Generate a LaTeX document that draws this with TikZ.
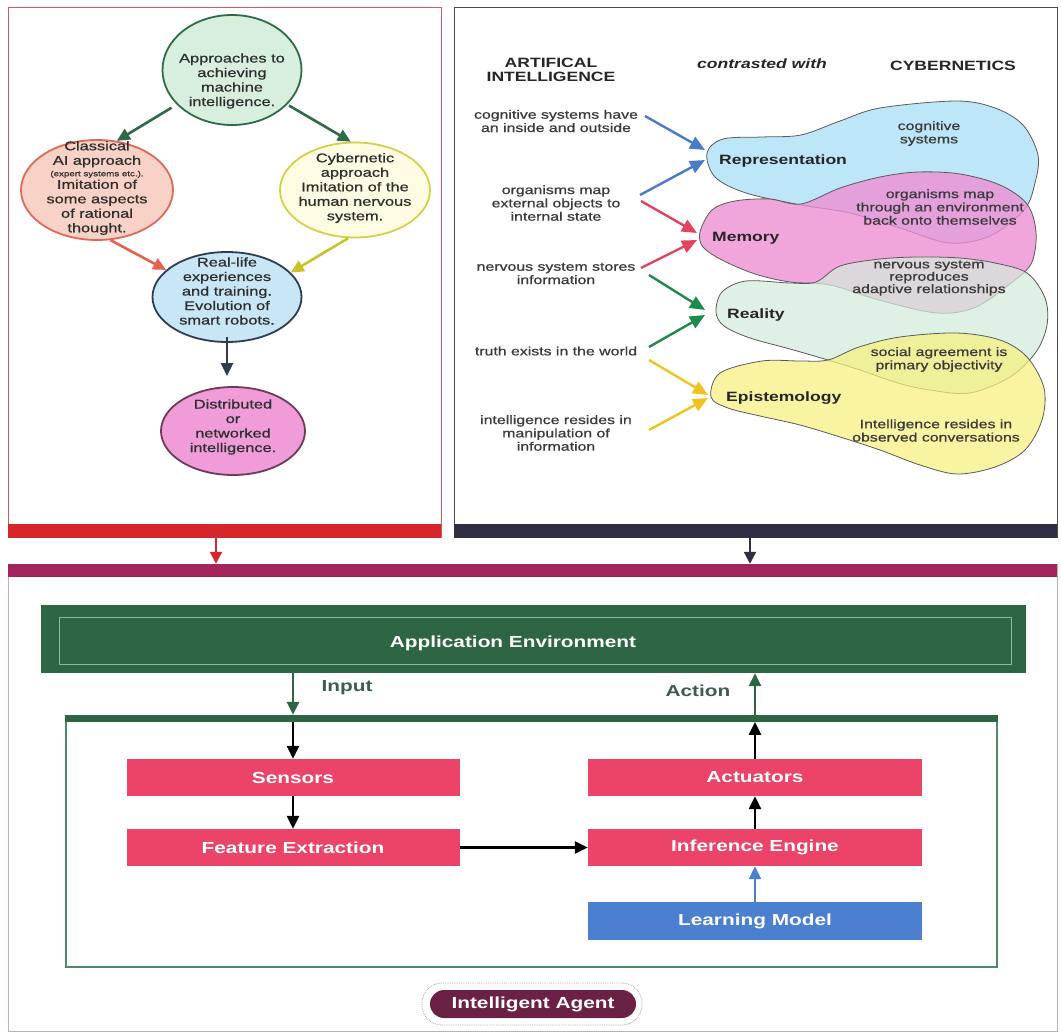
\documentclass[tikz,border=0pt]{standalone}
\usepackage{fontspec}
\setmainfont{Liberation Sans}[FakeStretch=1.3]
\newfontfamily\medfont{Liberation Sans}[FakeStretch=1.3, FakeBold=0.8]
\usetikzlibrary{arrows.meta,shapes.geometric,calc}
\definecolor{txtgray}{HTML}{2E2E2E}
\definecolor{rtxt}{HTML}{3A3A3A}
\definecolor{framered}{HTML}{D65A55}
\definecolor{barred}{HTML}{D7262B}
\definecolor{framedark}{HTML}{4A4A55}
\definecolor{barnavy}{HTML}{2F2E45}
\definecolor{barmag}{HTML}{A3245A}
\definecolor{bframe}{HTML}{C8AABB}
\definecolor{appgreen}{HTML}{2E6543}
\definecolor{appline}{HTML}{8DB89B}
\definecolor{agentline}{HTML}{4E8A64}
\definecolor{labgreen}{HTML}{3E5E4B}
\definecolor{pinkbox}{HTML}{EB4468}
\definecolor{bluebox}{HTML}{4B7FD0}
\definecolor{pill}{HTML}{6B2143}
\definecolor{egreen}{HTML}{2F6A48}
\definecolor{efgreen}{HTML}{D8EFDD}
\definecolor{ered}{HTML}{E0685A}
\definecolor{efred}{HTML}{F8D2C6}
\definecolor{eyel}{HTML}{D4D04A}
\definecolor{efyel}{HTML}{FDFCE2}
\definecolor{enavy}{HTML}{2C3E50}
\definecolor{efblue}{HTML}{C8E6F5}
\definecolor{epink}{HTML}{6E3A5A}
\definecolor{efpink}{HTML}{F09CD8}
\definecolor{aredarr}{HTML}{E5624F}
\definecolor{ayelarr}{HTML}{CBC22A}
\definecolor{ablue}{HTML}{4A7BC8}
\definecolor{ared}{HTML}{E2445E}
\definecolor{agrn}{HTML}{1E8A4B}
\definecolor{ayel}{HTML}{F2C21E}
\definecolor{bblue}{HTML}{BDE6F8}
\definecolor{bpink}{HTML}{EE8DD2}
\definecolor{bgreen}{HTML}{D3EBDA}
\definecolor{byel}{HTML}{F6F07E}
\definecolor{bline}{HTML}{5A5A5A}
\newcommand\fsA{\medfont\fontsize{12.6}{14.5}\selectfont}
\newcommand\fsB{\medfont\fontsize{12.2}{13.3}\selectfont}
\newcommand\fsH{\fontsize{13.5}{14}\selectfont\bfseries}
\newcommand\fsC{\fontsize{16}{18}\selectfont\bfseries}
\begin{document}
\begin{tikzpicture}[x=1pt,y=-1pt,
  ell/.style={ellipse, draw, line width=1.8, inner sep=0},
  ltxt/.style={text=txtgray, align=center, font=\fsA, inner sep=0},
  rtext/.style={text=rtxt, align=center, font=\fsB, inner sep=0},
  blab/.style={text=black!85, font=\fsH, inner sep=0, anchor=west},
  larrow/.style={line width=2.6, -{Triangle[length=13,width=12]}},
  rarrow/.style={line width=2.4, -{Triangle[length=15,width=13]}},
  karrow/.style={line width=2.8, -{Triangle[length=13,width=12]}},
  blob/.style={draw=bline, line width=0.8},
  pbox/.style={fill=pinkbox, text=white, font=\fsC, minimum width=333, minimum height=37, inner sep=0},
]
\path[use as bounding box, fill=white] (0,0) rectangle (1061,1033);

% ---------- top-left panel ----------
\draw[framered, line width=1] (8,8) rectangle (441,537);
\node[fill=barred, minimum width=433, minimum height=14, inner sep=0] (lbar) at (224.5,530.5) {};

\node[ell, draw=egreen, fill=efgreen, minimum width=139, minimum height=110] (top) at (232,70) {};
\node[ell, draw=ered, fill=efred, minimum width=152, minimum height=100] (cls) at (97,190) {};
\node[ell, draw=eyel, fill=efyel, minimum width=150, minimum height=95] (cyb) at (355,190) {};
\node[ell, draw=enavy, fill=efblue, minimum width=149, minimum height=90] (real) at (227,297) {};
\node[ell, draw=epink, fill=efpink, minimum width=144, minimum height=88] (dist) at (233,431) {};

\node[ltxt] (topT) at (232,81) {Approaches to\\achieving\\machine\\intelligence.};
\node[ltxt] (clsT) at (97,188) {Classical\\AI approach\\[-3pt]{\fontsize{7.5}{8}\selectfont (expert systems etc.).}\\[-2pt]Imitation of\\some aspects\\of rational\\thought.};
\node[ltxt] (cybT) at (355,188) {Cybernetic\\approach\\Imitation of the\\human nervous\\system.};
\node[ltxt] (realT) at (227,291) {Real-life\\experiences\\and training.\\Evolution of\\smart robots.};
\node[ltxt] (distT) at (233,427) {Distributed\\or\\networked\\intelligence.};

\draw[larrow, egreen, shorten <=6pt] (top.212) -- (cls.68);
\draw[larrow, egreen, shorten <=2pt] (top.328) -- (cyb.95);
\draw[larrow, aredarr] (cls.285) -- (real.156);
\draw[larrow, ayelarr] (cyb.262) -- (real.21);
\draw[larrow, enavy, shorten <=-6pt, shorten >=10pt] (real.south) -- (real.south |- dist.north);

% ---------- top-right panel ----------
\draw[framedark, line width=1] (454,8) rectangle (1057,537);
\node[fill=barnavy, minimum width=603, minimum height=14, inner sep=0] (rbar) at (755.5,530.5) {};

\node[font=\fsH, align=center, text=black!85, inner sep=0] (hAI) at (551,70) {ARTIFICAL\\INTELLIGENCE};
\node[font=\fsH, text=black!85, inner sep=0] (hCon) at (762,64) {\textit{contrasted with}};
\node[font=\fsH, text=black!85, inner sep=0] (hCyb) at (953,66) {CYBERNETICS};

% blobs
\filldraw[blob, fill=bblue] plot[smooth cycle, tension=0.55] coordinates {(707,153) (723,139) (762,137) (801,135) (840,121) (880,108) (956,101) (995,108) (1023,125) (1038,155) (1035,183) (1024,210) (990,236) (949,243) (900,228) (850,213) (801,205) (746,193) (715,177)};
\filldraw[blob, fill=bpink, fill opacity=0.78] plot[smooth cycle, tension=0.55] coordinates {(700,232) (712,210) (735,201) (770,199) (801,204) (840,188) (880,177) (918,172) (960,174) (1000,185) (1027,204) (1036,232) (1032,262) (1015,280) (976,307) (937,313) (879,300) (830,285) (790,282) (755,274) (722,260) (703,247)};
\filldraw[blob, fill=bgreen, fill opacity=0.72] plot[smooth cycle, tension=0.55] coordinates {(716,312) (722,292) (746,281) (790,283) (816,282) (840,266) (880,259) (918,257) (960,258) (995,263) (1027,273) (1045,298) (1047,325) (1036,352) (1010,377) (970,393) (930,390) (898,383) (860,370) (828,360) (790,349) (750,338) (724,326)};
\filldraw[blob, fill=byel, fill opacity=0.72] plot[smooth cycle, tension=0.55] coordinates {(711,397) (720,373) (762,361) (800,361) (828,360) (859,347) (900,337) (957,333) (1000,340) (1027,357) (1044,388) (1042,420) (1025,450) (995,467) (957,474) (920,465) (880,450) (840,437) (800,425) (760,416) (728,408)};

\node[blab] (rep) at (719,161) {Representation};
\node[blab] (mem) at (712,238) {Memory};
\node[blab] (rea) at (727,315) {Reality};
\node[blab] (epi) at (726,398) {Epistemology};

\node[rtext] (cs) at (929,133.5) {cognitive\\systems};
\node[rtext] (om) at (940,207) {organisms map\\through an environment\\back onto themselves};
\node[rtext, font=\medfont\fontsize{12.2}{11.3}\selectfont] (nsr) at (929,278) {nervous system\\reproduces\\adaptive relationships};
\node[rtext] (sa) at (939,359.5) {social agreement is\\primary objectivity};
\node[rtext] (ir) at (936,430.5) {Intelligence resides in\\observed conversations};

\node[rtext] (cog) at (556,121) {cognitive systems have\\an inside and outside};
\node[rtext] (org) at (556,203) {organisms map\\external objects to\\internal state};
\node[rtext] (nss) at (556,273.5) {nervous system stores\\information};
\node[rtext] (tru) at (556,351) {truth exists in the world};
\node[rtext] (int) at (556,433) {intelligence resides in\\manipulation of\\information};

\coordinate (b1s) at (645,116); \coordinate (b1e) at (705,150);
\coordinate (b2s) at (640,195); \coordinate (b2e) at (705,160);
\coordinate (r1s) at (641,201); \coordinate (r1e) at (697,233);
\coordinate (r2s) at (641,268); \coordinate (r2e) at (697,240);
\coordinate (g1s) at (649,275); \coordinate (g1e) at (705,310);
\coordinate (g2s) at (649,347); \coordinate (g2e) at (705,315);
\coordinate (y1s) at (649,360); \coordinate (y1e) at (708,395);
\coordinate (y2s) at (649,430); \coordinate (y2e) at (708,398);
\draw[rarrow, ablue] (b1s) -- (b1e);
\draw[rarrow, ablue] (b2s) -- (b2e);
\draw[rarrow, ared] (r1s) -- (r1e);
\draw[rarrow, ared] (r2s) -- (r2e);
\draw[rarrow, agrn] (g1s) -- (g1e);
\draw[rarrow, agrn] (g2s) -- (g2e);
\draw[rarrow, ayel] (y1s) -- (y1e);
\draw[rarrow, ayel] (y2s) -- (y2e);

% ---------- bottom panel ----------
\draw[bframe, line width=1] (8,564) rectangle (1057,1031);
\node[fill=barmag, minimum width=1049, minimum height=13, inner sep=0] (mbar) at (532.5,570.5) {};

\coordinate (ra) at ($(lbar.south)+(-8.5,0)$);
\coordinate (na) at ($(rbar.south)+(-5.5,0)$);
\draw[line width=2.2, barred, -{Triangle[length=12,width=12]}] (ra) -- (ra |- mbar.north);
\draw[line width=2.2, barnavy, -{Triangle[length=12,width=12]}] (na) -- (na |- mbar.north);

\node[fill=appgreen, minimum width=985, minimum height=68, inner sep=0] (app) at (533,639) {};
\draw[appline, line width=0.8] (59,617) rectangle (1011,664);
\node[text=white, font=\fsC, inner sep=0] (appT) at (513,643) {Application Environment};

\node[draw=agentline, line width=1.2, minimum width=931, minimum height=248, inner sep=0] (agent) at (531.5,843) {};
\draw[appgreen, line width=7] (agent.north west) -- (agent.north east);

\node[pbox] (sens) at (293,777.5) {Sensors};
\node[pbox] (feat) at (293,847.5) {Feature Extraction};
\node[pbox, minimum width=334] (act) at (755,777.5) {Actuators};
\node[pbox, minimum width=334] (inf) at (755,847.5) {Inference Engine};
\node[pbox, minimum width=334, minimum height=38, fill=bluebox] (learn) at (755,921) {Learning Model};

\draw[karrow, appgreen] (app.south -| sens.north) -- ([yshift=3.5pt]agent.north -| sens.north);
\draw[karrow, black] ([yshift=-3.5pt]agent.north -| sens.north) -- (sens.north);
\draw[karrow, black] (sens.south) -- (feat.north);
\draw[karrow, black] (feat.east) -- (inf.west);
\draw[karrow, black] (inf.north) -- (act.south);
\draw[line width=2.2, bluebox, -{Triangle[length=13,width=12]}] (learn.north) -- (inf.south);
\draw[karrow, black] (act.north) -- ([yshift=-3.5pt]agent.north -| act.north);
\draw[karrow, appgreen] ([yshift=3.5pt]agent.north -| act.north) -- (app.south -| act.north);

\node[text=labgreen, font=\fsC, inner sep=0] (inL) at (347,688) {Input};
\node[text=labgreen, font=\fsC, inner sep=0] (acL) at (698,691) {Action};

\node[draw=black!35, densely dotted, line width=0.8, rounded corners=20, minimum width=220, minimum height=42, inner sep=0] (iaout) at (532,1004) {};
\node[fill=pill, rounded corners=14, minimum width=206, minimum height=28, inner sep=0, text=white, font=\fsC] (ia) at (533,1004) {Intelligent Agent};
\end{tikzpicture}
\end{document}
